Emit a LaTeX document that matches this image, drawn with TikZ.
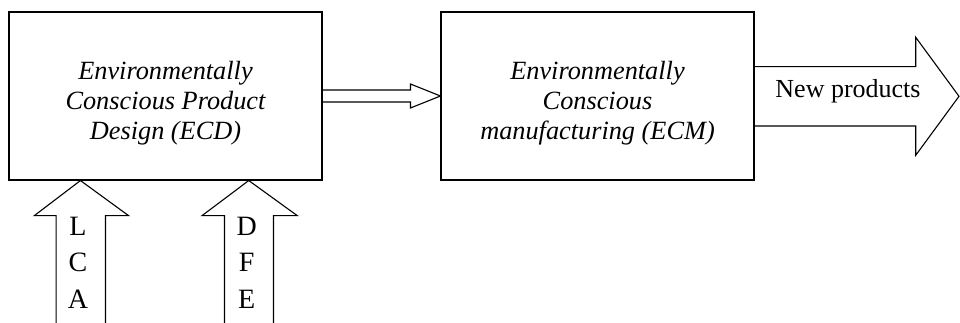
\documentclass[tikz,border=0pt]{standalone}
\usepackage{fontspec}
\setmainfont{Liberation Serif}
\usetikzlibrary{calc}
\tikzset{
  stagebox/.style={draw, line width=1.1pt, minimum width=313pt, minimum height=168pt, inner sep=0pt},
  stagetext/.style={inner sep=0pt, align=center, font=\itshape\fontsize{26.3}{30}\selectfont},
  blockarrow/.style={draw, line width=1.1pt, line join=miter},
  letter/.style={anchor=base, inner sep=0pt, font=\fontsize{28}{30}\selectfont},
  flowlabel/.style={anchor=base, inner sep=0pt, font=\fontsize{26}{30}\selectfont}
}
\begin{document}
\begin{tikzpicture}[x=1pt,y=-1pt]
\useasboundingbox (0,0) rectangle (960,323);

% the two stages
\node[stagebox] (ecd) at (165.5,96) {};
\node[stagebox] (ecm) at (597.5,96) {};
\node[stagetext] (ecdtext) at ($(ecd.center)+(0,7)$) {Environmentally\\Conscious Product\\Design (ECD)};
\node[stagetext] (ecmtext) at ($(ecm.center)+(0,7)$) {Environmentally\\Conscious\\manufacturing (ECM)};

% hollow arrow from design to manufacturing
\draw[blockarrow] ($(ecd.east)+(0,-6)$) -- ($(ecm.west)+(-30,-6)$) -- ($(ecm.west)+(-30,-12)$)
  -- (ecm.west) -- ($(ecm.west)+(-30,12)$) -- ($(ecm.west)+(-30,6)$) -- ($(ecd.east)+(0,6)$);

% output arrow
\coordinate (outtip) at (959,96.3);
\draw[blockarrow] ($(ecm.east|-outtip)+(0,-29.7)$) -- ($(outtip)+(-43.3,-29.7)$) -- ($(outtip)+(-43.3,-59)$)
  -- (outtip) -- ($(outtip)+(-43.3,59)$) -- ($(outtip)+(-43.3,29.7)$) -- ($(ecm.east|-outtip)+(0,29.7)$);
\node[flowlabel] (newprod) at (848,97.3) {New products};

% input arrows from below
\coordinate (lcatip) at ($(ecd.south west)+(72,0)$);
\coordinate (dfetip) at ($(ecd.south west)+(240.3,0)$);
\draw[blockarrow] ($(lcatip)+(-24.4,143)$) -- ($(lcatip)+(-24.4,35)$) -- ($(lcatip)+(-46,35)$)
  -- (lcatip) -- ($(lcatip)+(48,35)$) -- ($(lcatip)+(25,35)$) -- ($(lcatip)+(25,143)$);
\draw[blockarrow] ($(dfetip)+(-24.3,143)$) -- ($(dfetip)+(-24.3,35)$) -- ($(dfetip)+(-46.6,35)$)
  -- (dfetip) -- ($(dfetip)+(48.4,35)$) -- ($(dfetip)+(24.7,35)$) -- ($(dfetip)+(24.7,143)$);

\node[letter] (lcaL) at (78,235) {L};
\node[letter] (lcaC) at (78,271.7) {C};
\node[letter] (lcaA) at (78,308) {A};
\node[letter] (dfeD) at (246.7,235) {D};
\node[letter] (dfeF) at (246.7,271.7) {F};
\node[letter] (dfeE) at (246.7,308) {E};
\end{tikzpicture}
\end{document}
